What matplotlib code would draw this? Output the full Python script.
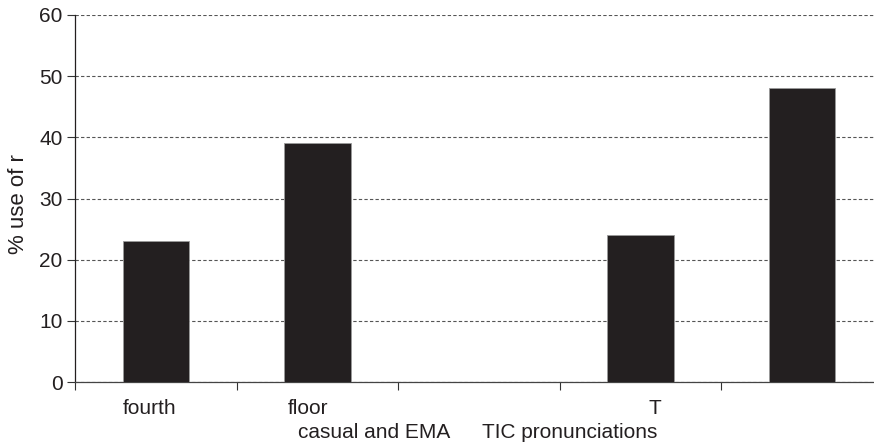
import matplotlib
matplotlib.use("Agg")
import matplotlib.pyplot as plt
import matplotlib.transforms as mtransforms

plt.rcParams['font.family'] = ['Liberation Sans', 'DejaVu Sans']

# Values per slot (None = empty slot)
slots = [0, 1, 2, 3, 4]
values = [23, 39, None, 24, 48]
first_row_labels = ["fourth", "floor", "T"]
first_row_pos = [-0.04, 0.94, 3.09]
second_row_labels = ["casual and EMA", "TIC pronunciations"]
second_row_pos = [1.35, 2.56]
yticks = [0, 10, 20, 30, 40, 50, 60]

fig = plt.figure(figsize=(8.74, 4.47), dpi=100)
ax = fig.add_axes([75 / 874, 1 - 382 / 447, (883 - 75) / 874, (382 - 15) / 447])

xs = [s for s, v in zip(slots, values) if v is not None]
hs = [v for v in values if v is not None]
ax.bar(xs, hs, width=0.41, color="#231f20", edgecolor="#9a9a9a", linewidth=0.6, zorder=3)

ax.set_xlim(-0.5, 4.5)
ax.set_ylim(0, 60)
ax.set_yticks(yticks)
ax.set_yticklabels([str(t) for t in yticks], fontsize=15, color="#231f20")
ax.yaxis.grid(True, linestyle=(0, (3, 2)), color="#555555", linewidth=0.8, zorder=0)

ax.set_xticks([-0.5, 0.5, 1.5, 2.5, 3.5, 4.5])
ax.set_xticklabels([])
ax.tick_params(axis="x", direction="out", length=6, width=0.8, color="#333333")
ax.tick_params(axis="y", direction="out", length=6, width=0.8, color="#333333", pad=3)

for side in ["top", "right"]:
    ax.spines[side].set_visible(False)
ax.spines["left"].set_color("#231f20")
ax.spines["left"].set_linewidth(0.9)
ax.spines["bottom"].set_color("#444444")
ax.spines["bottom"].set_linewidth(0.9)

ax.set_ylabel("% use of r", fontsize=16, color="#231f20", va="center")
ax.yaxis.set_label_coords(-0.0705, 0.485)

trans = mtransforms.blended_transform_factory(ax.transData, fig.transFigure)
for lab, x in zip(first_row_labels, first_row_pos):
    ax.text(x, 1 - 408 / 447, lab, transform=trans, ha="center", va="center",
            fontsize=15, color="#231f20")
for lab, x in zip(second_row_labels, second_row_pos):
    ax.text(x, 1 - 432 / 447, lab, transform=trans, ha="center", va="center",
            fontsize=15, color="#231f20")

fig.savefig("out.png", dpi=100)
